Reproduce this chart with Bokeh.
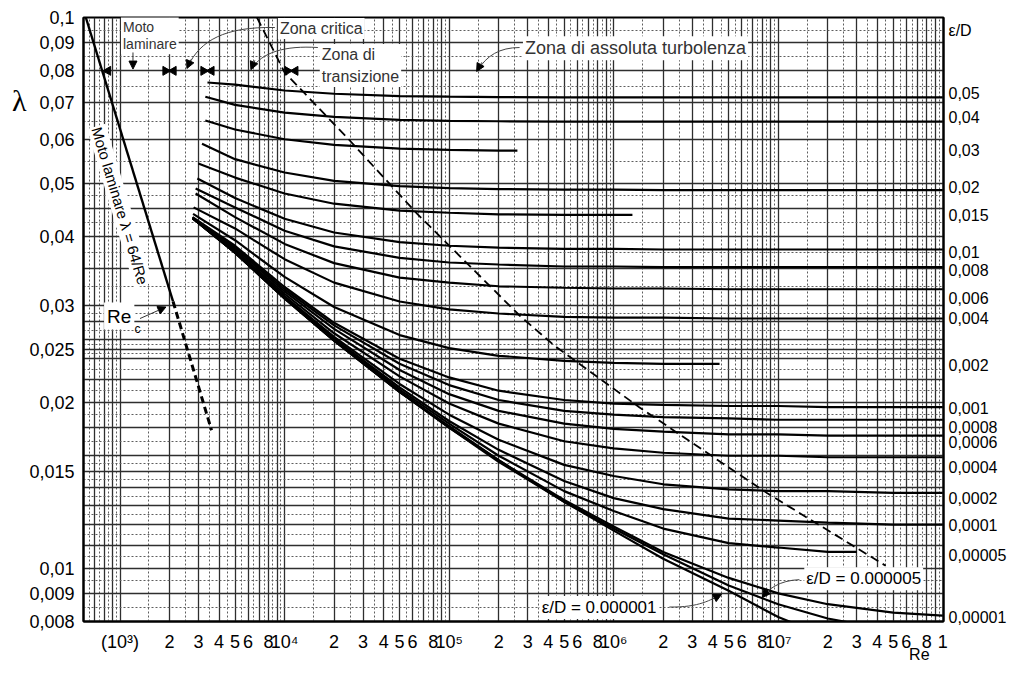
import math
from bokeh.plotting import figure
from bokeh.models import Range1d, FixedTicker, LogAxis, Label, Arrow, NormalHead
from bokeh.embed import file_html
from bokeh.resources import INLINE

NAN = float("nan")

# ---------------- data ----------------
# Reynolds numbers at which the curves were read (after each curve's own start point)
re_grid = [5000, 1e4, 2e4, 5e4, 1e5, 2e5, 5e5, 1e6, 2e6, 5e6, 1e7, 2e7, 5e7, 1e8]

# each curve: first value is at its start Re, the rest at re_grid
start_0_05, lam_0_05 = 3400, [.0762, .0755, .0737, .0727, .0720, .0718, .0717, .0716, .0716, .0716, .0716, .0716, .0716, .0716, .0716]
start_0_04, lam_0_04 = 3300, [.0718, .0694, .0672, .0660, .0652, .0649, .0648, .0647, .0647, .0647, .0647, .0647, .0647, .0647, .0647]
start_0_03, lam_0_03 = 3300, [.0650, .0626, .0601, .0587, .0578, .0575, .0573, NAN, NAN, NAN, NAN, NAN, NAN, NAN, NAN]
start_0_02, lam_0_02 = 3150, [.0590, .0553, .0523, .0505, .0494, .0490, .0488, .0487, .0487, .0486, .0486, .0486, .0486, .0486, .0486]
start_0_015, lam_0_015 = 2990, [.0543, .0512, .0479, .0459, .0446, .0442, .0439, .0438, .0438, NAN, NAN, NAN, NAN, NAN, NAN]
start_0_01, lam_0_01 = 2950, [.0510, .0470, .0431, .0407, .0391, .0385, .0382, .0380, .0380, .0379, .0379, .0379, .0379, .0379, .0379]
start_0_008, lam_0_008 = 2880, [.0489, .0452, .0410, .0384, .0366, .0359, .0356, .0353, .0353, .0352, .0352, .0352, .0352, .0352, .0352]
start_0_006, lam_0_006 = 2880, [.0479, .0434, .0388, .0358, .0337, .0330, .0325, .0323, .0322, .0322, .0321, .0321, .0321, .0321, .0321]
start_0_004, lam_0_004 = 2800, [.0452, .0414, .0364, .0330, .0305, .0295, .0290, .0286, .0285, .0285, .0284, .0284, .0284, .0284, .0284]
start_0_002, lam_0_002 = 2780, [.0440, .0394, .0338, .0298, .0265, .0251, .0243, .0238, .0236, .0235, NAN, NAN, NAN, NAN, NAN]
start_0_001, lam_0_001 = 2760, [.0434, .0385, .0324, .0279, .0240, .0222, .0210, .0202, .0199, .0198, .0197, .0197, .0196, .0196, .0196]
start_0_0008, lam_0_0008 = 2760, [.0433, .0383, .0321, .0276, .0235, .0215, .0202, .0193, .0190, .0188, .0187, .0186, .0186, .0186, .0186]
start_0_0006, lam_0_0006 = 2760, [.0432, .0381, .0318, .0272, .0229, .0207, .0193, .0183, .0179, .0177, .0175, .0175, .0174, .0174, .0174]
start_0_0004, lam_0_0004 = 2760, [.0432, .0378, .0315, .0267, .0223, .0199, .0183, .0170, .0165, .0162, .0160, .0160, .0159, .0159, .0159]
start_0_0002, lam_0_0002 = 2760, [.0432, .0376, .0312, .0263, .0216, .0190, .0171, .0154, .0147, .0142, .0139, .0138, .0138, .0137, .0137]
start_0_0001, lam_0_0001 = 2760, [.0432, .0375, .0310, .0261, .0213, .0185, .0164, .0144, .0134, .0128, .0123, .0122, .0121, .0120, .0120]
start_0_00005, lam_0_00005 = 2760, [.0432, .0374, .0310, .0260, .0211, .0183, .0160, .0138, .0127, .0118, .0111, .0109, .0107, NAN, NAN]
start_0_00001, lam_0_00001 = 2760, [.0432, .0374, .0309, .0259, .0209, .0181, .0157, .0133, .0119, .0107, .0096, .0090, .0086, .0083, .0082]
start_0_000005, lam_0_000005 = 2760, [.0432, .0374, .0309, .0259, .0209, .0180, .0157, .0132, .0118, .0106, .0093, .0086, .0081, .0077, NAN]
start_0_000001, lam_0_000001 = 2760, [.0432, .0374, .0309, .0259, .0209, .0180, .0156, .0132, .0117, .0104, .0091, .00815, .0075, NAN, NAN]

# Reynolds number where each interrupted curve stops
end_0_03 = 2.6e5
end_0_015 = 1.3e6
end_0_002 = 4.4e6
end_0_00005 = 3.0e7

# laminar line lambda = 64/Re (solid up to Re_c, then dashed)
re_laminar = [620, 2100]
lam_laminar = [0.100, 0.0305]
re_laminar_dash = [2100, 3600]
lam_laminar_dash = [0.0305, 0.0178]

# dashed boundary of the fully rough zone
re_boundary = [6800, 10000, 24000, 64000, 2.7e5, 4.4e5, 1.43e6, 8.5e6, 4.5e7]
lam_boundary = [0.100, 0.0795, 0.0605, 0.0440, 0.0287, 0.0253, 0.0196, 0.0137, 0.0101]

# right-hand epsilon/D labels (lambda level where they are printed)
eps_label_lam = [0.0947, 0.0727, 0.0658, 0.0573, 0.0491, 0.0437, 0.0374, 0.0347, 0.0309, 0.0284, 0.0233,
                 0.0195, 0.0180, 0.0169, 0.01523, 0.01337, 0.01194, 0.01053, 0.00813]
eps_label_txt = ["\u03b5/D", "0,05", "0,04", "0,03", "0,02", "0,015", "0,01", "0,008", "0,006", "0,004", "0,002",
                 "0,001", "0,0008", "0,0006", "0,0004", "0,0002", "0,0001", "0,00005", "0,00001"]

# axis tick labels
y_tick_vals = [0.008, 0.009, 0.01, 0.015, 0.02, 0.025, 0.03, 0.04, 0.05, 0.06, 0.07, 0.08, 0.09, 0.1]
y_tick_txt = ["0,008", "0,009", "0,01", "0,015", "0,02", "0,025", "0,03", "0,04", "0,05", "0,06",
              "0,07", "0,08", "0,09", "0,1"]
x_tick_vals = [1e3, 2e3, 3e3, 4e3, 5e3, 6e3, 8e3,
               1e4, 2e4, 3e4, 4e4, 5e4, 6e4, 8e4,
               1e5, 2e5, 3e5, 4e5, 5e5, 6e5, 8e5,
               1e6, 2e6, 3e6, 4e6, 5e6, 6e6, 8e6,
               1e7, 2e7, 3e7, 4e7, 5e7, 6e7, 8e7, 1e8]
x_tick_txt = ["(10\u00b3)", "2", "3", "4", "5", "6", "8",
              "10\u2074", "2", "3", "4", "5", "6", "8",
              "10\u2075", "2", "3", "4", "5", "6", "8",
              "10\u2076", "2", "3", "4", "5", "6", "8",
              "10\u2077", "2", "3", "4", "5", "6", "8", "1"]
lam_symbol_level = 0.0707
re_symbol_pos = 7.2e7

# grid levels
y_grid_solid = [0.008, 0.009, 0.01, 0.011, 0.012, 0.013, 0.014, 0.015, 0.016, 0.018, 0.02, 0.022,
                0.024, 0.025, 0.026, 0.028, 0.03, 0.035, 0.04, 0.045, 0.05, 0.06, 0.07, 0.08, 0.09, 0.1]
x_grid_mult_solid = [1, 2, 3, 4, 5, 6, 7, 8, 9]
x_grid_mult_dash = [1.5, 2.5, 3.5, 4.5, 5.5, 6.5, 7.5, 8.5, 9.5]

# ---------------- figure ----------------
FONT = "Liberation Sans"
p = figure(x_axis_type="log", y_axis_type="log",
           x_range=Range1d(600, 1.01e8), y_range=Range1d(0.008, 0.1),
           frame_width=860, frame_height=604,
           min_border_left=83, min_border_right=64, min_border_top=17, min_border_bottom=39,
           output_backend="svg", toolbar_location=None, background_fill_color="white",
           border_fill_color="white")
p.outline_line_color = "black"
p.outline_line_width = 2

x_solid = [m * 10 ** n for n in range(2, 8) for m in x_grid_mult_solid]
x_dash = [m * 10 ** n for n in range(2, 8) for m in x_grid_mult_dash]
p.xgrid.ticker = FixedTicker(ticks=x_solid, minor_ticks=x_dash)
y_dash = [math.sqrt(a * b) for a, b in zip(y_grid_solid[:-1], y_grid_solid[1:])]
p.ygrid.ticker = FixedTicker(ticks=y_grid_solid, minor_ticks=y_dash)
for g in (p.xgrid, p.ygrid):
    g.grid_line_color = "#2e2e2e"
    g.grid_line_width = 1.3
    g.minor_grid_line_color = "#5e5e5e"
    g.minor_grid_line_width = 1
    g.minor_grid_line_dash = "2 2"


def plain(ax):
    ax.major_tick_out = 0
    ax.major_tick_in = 0
    ax.minor_tick_out = 0
    ax.minor_tick_in = 0
    ax.major_label_text_font = FONT
    ax.major_label_text_color = "black"


xa = p.xaxis[0]
xa.ticker = FixedTicker(ticks=x_tick_vals)
xa.major_label_overrides = dict(zip(x_tick_vals, x_tick_txt))
ya = p.yaxis[0]
ya.ticker = FixedTicker(ticks=y_tick_vals)
ya.major_label_overrides = dict(zip(y_tick_vals, y_tick_txt))
for ax in (xa, ya):
    plain(ax)
    ax.axis_line_width = 2
    ax.major_label_text_font_size = "18px"
xa.major_label_standoff = 10
ya.major_label_standoff = 9

ra = LogAxis(ticker=FixedTicker(ticks=eps_label_lam),
             major_label_overrides=dict(zip(eps_label_lam, eps_label_txt)))
plain(ra)
ra.axis_line_width = 2
ra.major_label_standoff = 5
ra.major_label_text_font_size = "16px"
p.add_layout(ra, "right")

# "lambda" symbol beside the left axis
lam_ax = LogAxis(ticker=FixedTicker(ticks=[lam_symbol_level]),
                 major_label_overrides={lam_symbol_level: "\u03bb"})
plain(lam_ax)
lam_ax.axis_line_color = None
lam_ax.major_label_standoff = 0
lam_ax.major_label_text_font = "Liberation Serif"
lam_ax.major_label_text_font_size = "30px"
p.add_layout(lam_ax, "left")

# "Re" under the x axis, at the right
re_ax = LogAxis(ticker=FixedTicker(ticks=[re_symbol_pos]),
                major_label_overrides={re_symbol_pos: "Re"})
plain(re_ax)
re_ax.axis_line_color = None
re_ax.major_label_standoff = -9
re_ax.major_label_text_font_size = "16px"
p.add_layout(re_ax, "below")

# ---------------- curves ----------------
curves = [
    (start_0_05, lam_0_05, None), (start_0_04, lam_0_04, None), (start_0_03, lam_0_03, end_0_03),
    (start_0_02, lam_0_02, None), (start_0_015, lam_0_015, end_0_015), (start_0_01, lam_0_01, None),
    (start_0_008, lam_0_008, None), (start_0_006, lam_0_006, None), (start_0_004, lam_0_004, None),
    (start_0_002, lam_0_002, end_0_002), (start_0_001, lam_0_001, None), (start_0_0008, lam_0_0008, None),
    (start_0_0006, lam_0_0006, None), (start_0_0004, lam_0_0004, None), (start_0_0002, lam_0_0002, None),
    (start_0_0001, lam_0_0001, None), (start_0_00005, lam_0_00005, end_0_00005),
    (start_0_00001, lam_0_00001, None), (start_0_000005, lam_0_000005, None),
    (start_0_000001, lam_0_000001, None),
]
for start, lam, end in curves:
    pts = [(r, v) for r, v in zip([start] + re_grid, lam) if not math.isnan(v)]
    xs = [a for a, _ in pts]
    ys = [b for _, b in pts]
    if end is not None:
        xs.append(end)
        ys.append(ys[-1])
    p.line(xs, ys, line_color="black", line_width=2.2)

p.line(re_laminar, lam_laminar, line_color="black", line_width=2.4)
p.line(re_laminar_dash, lam_laminar_dash, line_color="black", line_width=3, line_dash="7 4")
p.line(re_boundary, lam_boundary, line_color="black", line_width=1.8, line_dash="9 5")

# ---------------- annotations ----------------
def lab(x, y, text, size, align="left", baseline="middle", bg="white", angle=0, font=FONT,
        color="black", line_height=1.2, pad=2):
    p.add_layout(Label(x=x, y=y, text=text, text_font=font, text_font_size=size,
                       text_align=align, text_baseline=baseline, angle=angle,
                       text_color=color, text_line_height=line_height,
                       background_fill_color=bg, padding=pad))

lab(1014, 0.0928, "Moto\nlaminare", "14px", color="#333333", line_height=1.1)
lab(9110, 0.0955, "Zona critica", "16px", color="#333333")
lab(16370, 0.0818, "Zona di\ntransizione", "16px", color="#333333", line_height=1.3)
lab(2.81e5, 0.0879, "Zona di assoluta turbolenza", "18px", color="#333333")
lab(1000, 0.0455, "Moto laminare \u03bb = 64/Re", "15px", align="center", angle=-1.28, pad=1)
lab(800, 0.0287, "Re", "19px", pad=3)
lab(1190, 0.0272, "c", "12px", bg=None)
lab(3.55e5, 0.00848, "\u03b5/D = 0.000001", "17px")
lab(1.44e7, 0.00957, "\u03b5/D = 0.000005", "17px")

# curved leader lines
p.bezier(x0=[8730, 15930, 2.68e5, 2.18e6, 1.345e7],
         y0=[0.0959, 0.0882, 0.0882, 0.00850, 0.00953],
         x1=[2587, 6330, 1.49e5, 4.52e6, 8.0e6],
         y1=[0.0815, 0.0808, 0.0801, 0.00896, 0.00884],
         cx0=[4340, 10040, 2.03e5, 3.33e6, 1.016e7],
         cy0=[0.0963, 0.0890, 0.0882, 0.00848, 0.0095],
         cx1=[3060, 7280, 1.69e5, 3.9e6, 8.6e6],
         cy1=[0.0908, 0.0864, 0.0853, 0.00877, 0.00915],
         line_color="#444444", line_width=1)
heads = [((2699, 0.0839), (2551, 0.0808)), ((6600, 0.0836), (6245, 0.0804)),
         ((1.58e5, 0.0829), (1.47e5, 0.0798)), ((3.93e6, 0.00877), (4.52e6, 0.00896)),
         ((8.5e6, 0.00905), (8.0e6, 0.00884)), ((1199, 0.0864), (1199, 0.0806)),
         ((1323, 0.0284), (1901, 0.0298))]
for (xs0, ys0), (xe, ye) in heads:
    p.add_layout(Arrow(end=NormalHead(size=8, fill_color="black", line_color="black"),
                       x_start=xs0, y_start=ys0, x_end=xe, y_end=ye,
                       line_color="#333333", line_width=1))

# zone markers on the 0.08 line
p.scatter([846], [0.08], marker="triangle", size=9, angle=math.pi / 2, color="black")
p.scatter([1890, 3215, 10400], [0.08] * 3, marker="triangle", size=9, angle=-math.pi / 2, color="black")
p.scatter([2115, 3595, 11630], [0.08] * 3, marker="triangle", size=9, angle=math.pi / 2, color="black")

open("out.html", "w").write(file_html(p, INLINE))
